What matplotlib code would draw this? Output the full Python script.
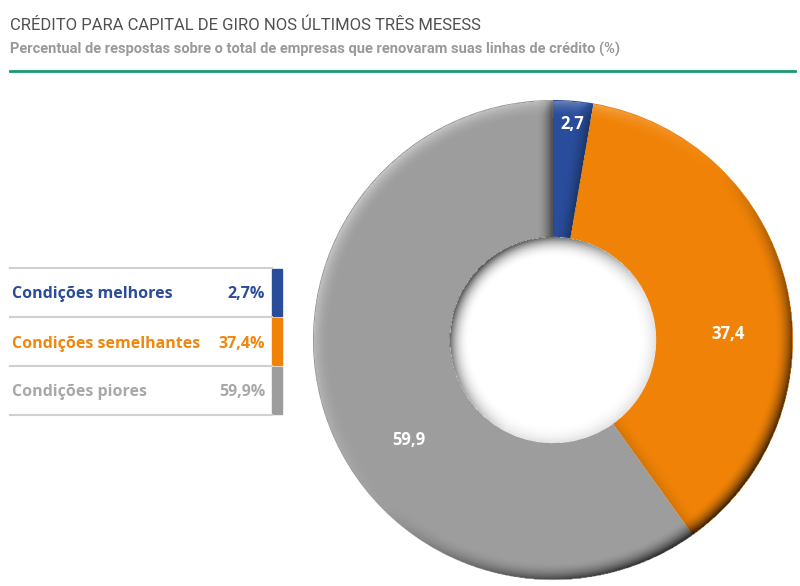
import numpy as np
import matplotlib.pyplot as plt
from matplotlib.lines import Line2D
from matplotlib.patches import Rectangle

# data
categories = ['Condições melhores', 'Condições semelhantes', 'Condições piores']
values = [2.7, 37.4, 59.9]
value_labels = ['2,7', '37,4', '59,9']
legend_values = ['2,7%', '37,4%', '59,9%']
colors = ['#2a4d9b', '#f08307', '#9d9d9d']
text_colors = ['#2b4c96', '#f0870f', '#a8a8a8']

title = 'CRÉDITO PARA CAPITAL DE GIRO NOS ÚLTIMOS TRÊS MESESS'
subtitle = 'Percentual de respostas sobre o total de empresas que renovaram suas linhas de crédito (%)'

W, H = 800, 586
fig = plt.figure(figsize=(W / 100, H / 100), dpi=100)
fig.patch.set_facecolor('white')

def fx(px):
    return px / W

def fy(py):
    return 1 - py / H

# title block
fig.text(fx(10), fy(25), title, fontsize=12, color='#505050',
         family=['Roboto', 'DejaVu Sans'], va='center', ha='left')
fig.text(fx(10), fy(49), subtitle, fontsize=10.5, color='#999999', fontweight='bold',
         family=['Roboto', 'DejaVu Sans'], va='center', ha='left')
fig.add_artist(Line2D([fx(10), fx(795)], [fy(71), fy(71)], color='#1b9a6c', lw=2))

# donut
r_in = 0.43
ax = fig.add_axes([fx(313), 1 - 580 / H, 480 / W, 480 / H])
wedges, _ = ax.pie(values, colors=colors, startangle=90, counterclock=False,
                   radius=1, wedgeprops=dict(width=1 - r_in, linewidth=0))

# bevel / shadow overlay
n = 600
g = np.linspace(-1, 1, n)
X, Y = np.meshgrid(g, g)
R = np.hypot(X, Y) + 1e-9
L = np.array([-0.707, 0.707])
dotL = (X * L[0] + Y * L[1]) / R
s = np.zeros_like(R)

w_o = 0.075
band = (R > 1 - w_o) & (R <= 1)
t = (R - (1 - w_o)) / w_o
s[band] = (t[band] ** 2) * np.where(dotL[band] > 0, 0.45, 0.8) * dotL[band]

w_i = 0.09
hole = (R > r_in - w_i) & (R < r_in)
t2 = (R - (r_in - w_i)) / w_i
s[hole] = -(t2[hole] ** 2.5) * (0.12 + 0.6 * np.clip(dotL[hole] + 0.3, 0, 1.3) / 1.3)

# darker band along the clockwise end edge of each wedge
ang = np.degrees(np.arctan2(Y, X))
bounds = 90 - np.cumsum(values) * 3.6
edge_alpha = [0.35, 0.12, 0.55]
ring = (R >= r_in) & (R <= 1)
for a_end, ea in zip(bounds, edge_alpha):
    d = np.radians((ang - a_end) % 360) * R
    eb = ring & (d < 0.07)
    s[eb] -= ea * ((1 - d[eb] / 0.07) ** 2)

s[R > 1] = 0
rgba = np.zeros((n, n, 4))
rgba[..., :3] = np.where(s[..., None] > 0, 1.0, 0.0)
rgba[..., 3] = np.clip(np.abs(s), 0, 1)
ax.imshow(rgba, extent=[-1, 1, -1, 1], origin='lower', interpolation='bilinear', zorder=3)

label_pos = [(0.08, 0.90), (0.73, 0.025), (-0.60, -0.417)]
for (x, y), lab in zip(label_pos, value_labels):
    ax.text(x, y, lab, color='white', fontsize=12, fontweight='bold',
            family='Open Sans', ha='center', va='center', zorder=4)
ax.set_xlim(-1, 1)
ax.set_ylim(-1, 1)
ax.set_aspect('equal')
ax.axis('off')

# legend table
rows_top = [268, 317, 366, 415]
for y in rows_top:
    fig.add_artist(Line2D([fx(10), fx(272)], [fy(y), fy(y)], color='#d0d0d0', lw=1.5))
for i, (cat, v) in enumerate(zip(categories, legend_values)):
    y0, y1 = rows_top[i], rows_top[i + 1]
    yc = (y0 + y1) / 2 + 2
    fig.add_artist(Rectangle((fx(272), fy(y1 - 1)), fx(10), (y1 - y0 - 2) / H,
                             color=colors[i], transform=fig.transFigure))
    fig.text(fx(12), fy(yc), cat, fontsize=11.5, fontweight='bold', color=text_colors[i],
             family='Open Sans', va='center', ha='left')
    fig.text(fx(265), fy(yc), v, fontsize=11.5, fontweight='bold', color=text_colors[i],
             family='Open Sans', va='center', ha='right')

fig.savefig('out.png', dpi=100)
